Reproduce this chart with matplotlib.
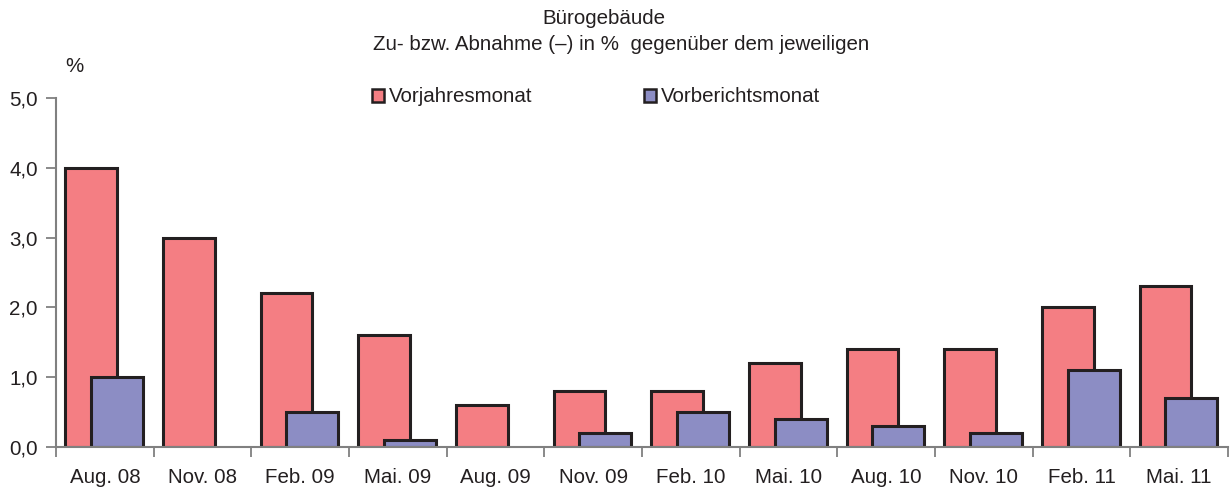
import matplotlib
matplotlib.use("Agg")
import matplotlib.pyplot as plt
import numpy as np

categories = ["Aug. 08", "Nov. 08", "Feb. 09", "Mai. 09", "Aug. 09", "Nov. 09",
              "Feb. 10", "Mai. 10", "Aug. 10", "Nov. 10", "Feb. 11", "Mai. 11"]
vorjahresmonat = [4.0, 3.0, 2.2, 1.6, 0.6, 0.8, 0.8, 1.2, 1.4, 1.4, 2.0, 2.3]
vorberichtsmonat = [1.0, 0.0, 0.5, 0.1, 0.0, 0.2, 0.5, 0.4, 0.3, 0.2, 1.1, 0.7]
yticks = [0, 1, 2, 3, 4, 5]
ytick_labels = ["0,0", "1,0", "2,0", "3,0", "4,0", "5,0"]

plt.rcParams['font.family'] = ['Liberation Sans', 'DejaVu Sans']
TXT = "#231F20"
FS = 14.8

fig = plt.figure(figsize=(12.31, 4.90), dpi=100)
ax = fig.add_axes([56/1231, 1-447/490, (1228-56)/1231, (447-98)/490])

x = np.arange(len(categories))
w = 0.53
red = "#F47E83"
blue = "#8C8DC4"
edge = "#231F20"

ax.bar(x - 0.14, vorjahresmonat, width=w, color=red, edgecolor=edge, linewidth=2.2,
       label="Vorjahresmonat", zorder=2)
vb = np.array(vorberichtsmonat, dtype=float)
mask = vb > 0
ax.bar(x[mask] + 0.125, vb[mask], width=w, color=blue, edgecolor=edge, linewidth=2.2,
       label="Vorberichtsmonat", zorder=3)

ax.set_xlim(-0.5, len(categories) - 0.5)
ax.set_ylim(0, 5)
ax.set_yticks(yticks)
ax.set_yticklabels(ytick_labels)
ax.set_xticks(x)
ax.set_xticklabels(categories)
ax.set_xticks(np.arange(len(categories) + 1) - 0.5, minor=True)
ax.tick_params(axis='x', which='major', length=0, pad=15, labelsize=FS, labelcolor=TXT)
ax.tick_params(axis='x', which='minor', length=7, width=1.3, color="#808080", direction='out')
ax.tick_params(axis='y', length=7, width=1.3, color="#808080", pad=6, labelsize=FS, labelcolor=TXT)

for s in ["top", "right"]:
    ax.spines[s].set_visible(False)
for s in ["left", "bottom"]:
    ax.spines[s].set_color("#808080")
    ax.spines[s].set_linewidth(1.5)
ax.spines["bottom"].set_zorder(4)

fig.text(604/1231, 1-18/490, "Bürogebäude", ha="center", va="center", fontsize=FS, color=TXT)
fig.text(621/1231, 1-45/490, "Zu- bzw. Abnahme (\u2013) in %  gegenüber dem jeweiligen",
         ha="center", va="center", fontsize=FS, color=TXT)
fig.text(74/1231, 1-67/490, "%", ha="center", va="center", fontsize=FS, color=TXT)

leg = ax.legend(loc="center left", bbox_to_anchor=(372/1231, 1-97/490),
                bbox_transform=fig.transFigure, ncol=2, frameon=False,
                fontsize=FS, handlelength=0.6, handleheight=0.6, handletextpad=0.2,
                columnspacing=5.45, borderpad=0, borderaxespad=0)
for t in leg.get_texts():
    t.set_color(TXT)
for h in leg.legend_handles:
    h.set_linewidth(1.8)

fig.savefig("out.png", dpi=100)
